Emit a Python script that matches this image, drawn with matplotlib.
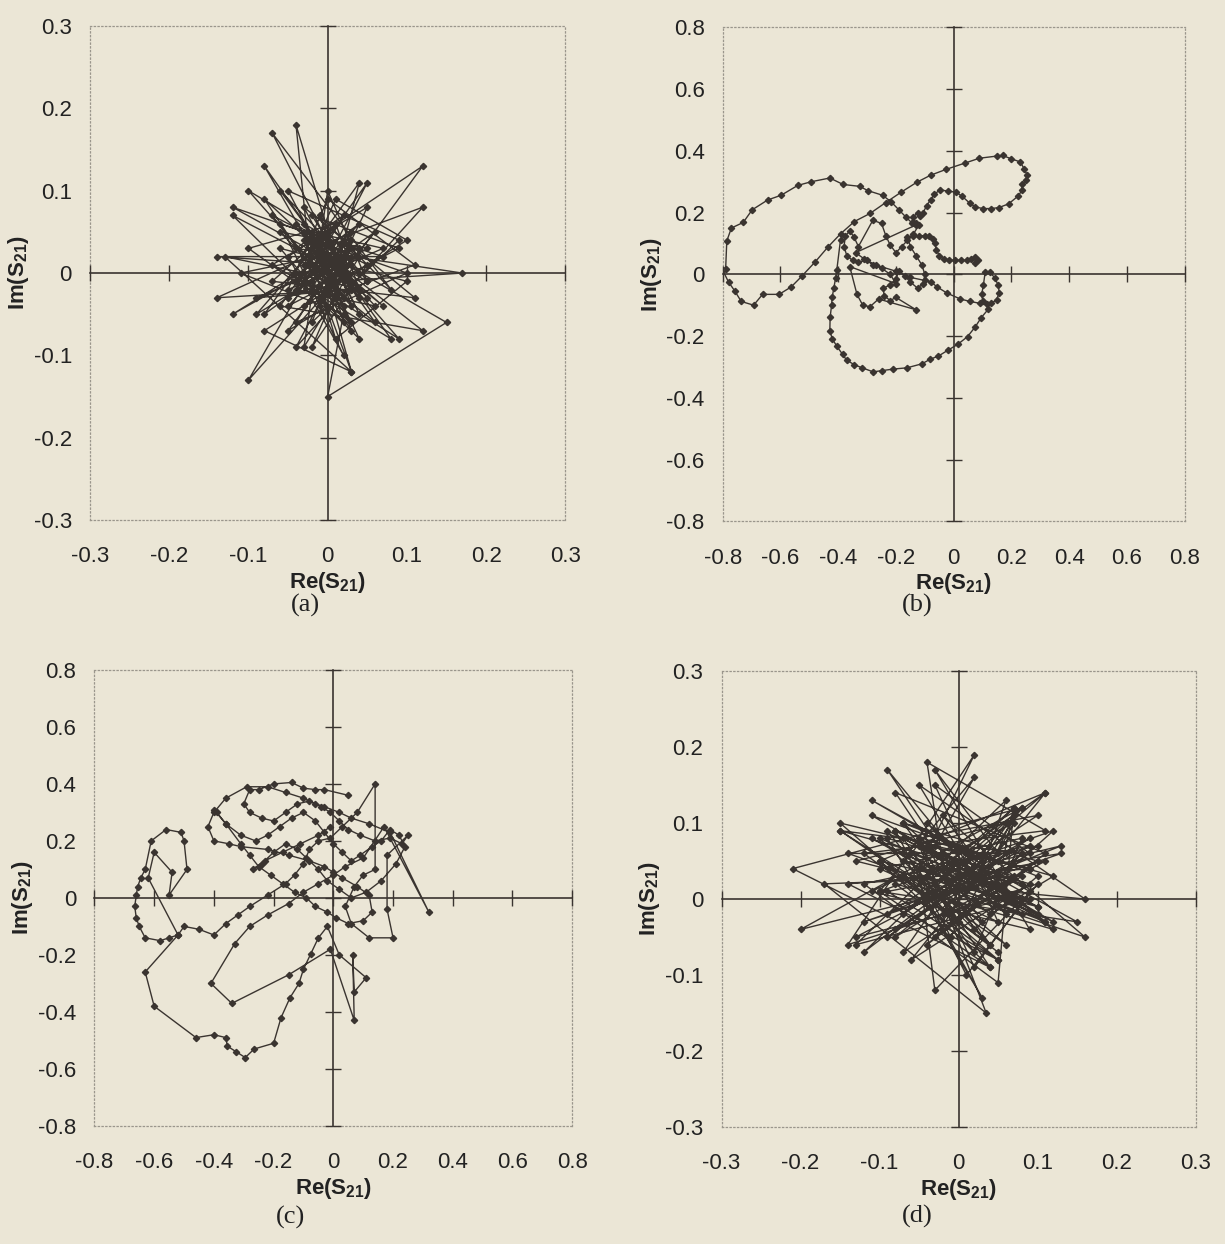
import matplotlib
matplotlib.use("Agg")
import matplotlib.pyplot as plt

plt.rcParams["font.family"] = ["Liberation Sans", "DejaVu Sans"]
plt.rcParams["mathtext.fontset"] = "custom"
plt.rcParams["mathtext.rm"] = "Liberation Sans:bold"
plt.rcParams["mathtext.it"] = "Liberation Sans:bold"

# ---- panel (a): noisy S21, +-0.3 ----
a_re = [0.01, -0.04, -0.02, 0.05, -0.06, 0.03, -0.01, 0.08, -0.07, 0.02, -0.05, 0.04, -0.03, 0.06, -0.08,
        0.01, 0.03, -0.04, 0.10, -0.02, 0.02, -0.10, 0.04, -0.03, 0.00, 0.05, -0.12, 0.03, -0.01, 0.12,
        -0.05, 0.02, -0.06, 0.07, -0.14, 0.01, 0.04, -0.03, 0.11, -0.07, 0.00, 0.03, -0.14, 0.02, -0.02,
        0.09, -0.05, 0.01, 0.17, -0.04, 0.02, -0.10, 0.03, -0.02, 0.05, -0.06, 0.12, 0.00, -0.03, 0.04,
        -0.12, 0.02, -0.01, 0.06, -0.04, 0.01, 0.10, -0.08, 0.03, -0.02, 0.04, -0.11, 0.02, 0.00, 0.15,
        -0.03, 0.01, -0.07, 0.05, -0.02, 0.03, -0.09, 0.01, 0.04, -0.04, 0.09, -0.01, 0.02, -0.13, 0.03,
        -0.02, 0.07, -0.05, 0.00, 0.11, -0.03, 0.02, -0.06, 0.04, -0.01, 0.08, -0.04, 0.01, -0.10, 0.03,
        0.00, 0.05, -0.07, 0.02, -0.02, 0.12, -0.04, 0.01, 0.04, -0.08, 0.02, -0.01, 0.06, -0.03, 0.03,
        -0.12, 0.01, 0.04, -0.02, 0.09, -0.05, 0.00, 0.03, -0.08, 0.02, 0.05, -0.03, 0.01, 0.10, -0.06,
        0.02, -0.01, 0.04, -0.04, 0.03, -0.09, 0.01, 0.07, -0.02, 0.00, 0.05, -0.05, 0.02, -0.03, 0.01]
a_im = [0.02, 0.18, -0.01, 0.03, 0.05, -0.04, 0.07, -0.02, 0.17, 0.00, -0.03, 0.06, 0.01, -0.06, 0.13,
        -0.02, 0.05, -0.06, 0.00, 0.04, -0.03, 0.10, 0.02, -0.09, 0.10, -0.01, 0.08, 0.03, -0.04, 0.13,
        0.02, -0.10, 0.06, 0.02, 0.02, 0.01, -0.05, 0.08, -0.03, -0.01, 0.05, -0.02, -0.03, 0.04, -0.06,
        0.04, 0.10, -0.01, 0.00, 0.03, 0.07, -0.13, 0.01, -0.02, 0.11, -0.04, -0.07, 0.02, 0.06, -0.08,
        0.07, 0.00, 0.03, -0.04, -0.02, 0.09, 0.04, -0.07, -0.12, 0.01, 0.03, 0.00, -0.05, -0.15, -0.06,
        0.04, -0.03, 0.07, 0.01, -0.09, 0.02, -0.05, 0.06, -0.02, 0.00, -0.08, 0.03, -0.01, 0.02, -0.12,
        0.05, 0.03, -0.02, 0.09, 0.01, -0.04, 0.02, 0.10, -0.03, 0.04, -0.08, -0.01, 0.06, 0.03, -0.06,
        -0.02, 0.08, 0.01, -0.04, 0.03, 0.08, -0.09, 0.00, 0.11, -0.05, 0.02, -0.03, 0.05, -0.01, 0.04,
        -0.05, 0.02, -0.02, 0.07, 0.03, -0.04, 0.01, -0.07, 0.09, 0.00, -0.03, 0.05, -0.08, -0.01, 0.03,
        -0.06, 0.04, 0.00, 0.06, -0.02, -0.03, 0.01, -0.04, 0.03, 0.05, -0.01, -0.07, 0.02, 0.00, 0.01]

# ---- panel (b): looping S21, +-0.8 ----
b_re = [0.075, 0.085, 0.075, 0.06, 0.045, 0.025, 0.005, -0.015, -0.035, -0.05, -0.06, -0.065, -0.07,
        -0.085, -0.10, -0.12, -0.14, -0.16, -0.15, -0.13, -0.11, -0.10, -0.105, -0.125, -0.15, -0.17,
        -0.19, -0.20, -0.22, -0.245, -0.24, -0.22, -0.20, -0.13, -0.26, -0.29, -0.315, -0.335, -0.36,
        -0.20, -0.22, -0.25, -0.28, -0.30, -0.33, -0.35, -0.37, -0.38, -0.375, -0.36, -0.345, -0.33,
        -0.28, -0.25, -0.235, -0.22, -0.20, -0.18, -0.16, -0.14, -0.12, -0.13, -0.143,
        -0.166, -0.189, -0.217, -0.246, -0.297, -0.326, -0.383, -0.429, -0.493, -0.54, -0.598, -0.644,
        -0.698, -0.729, -0.77, -0.786, -0.79, -0.80, -0.78, -0.759, -0.736, -0.693, -0.662, -0.605,
        -0.563, -0.527, -0.479, -0.435, -0.392, -0.344, -0.29, -0.236, -0.182, -0.128, -0.08, -0.026,
        0.041, 0.089, 0.149, 0.17, 0.197, 0.231, 0.244, 0.254, 0.251, 0.237, 0.237, 0.224, 0.19, 0.156,
        0.129, 0.102, 0.075, 0.055, 0.028, 0.007, -0.02, -0.047, -0.067, -0.08, -0.094, -0.107, -0.115,
        -0.125, -0.14, -0.14, -0.13, -0.34, -0.31, -0.27, -0.20, -0.15, -0.10, -0.08, -0.057, -0.023,
        0.023, 0.057, 0.091, 0.101, 0.097, 0.103, 0.109, 0.126, 0.143, 0.154, 0.158, 0.149, 0.131,
        0.114, 0.12, 0.095, 0.075, 0.048, 0.014, -0.02, -0.053, -0.081, -0.11, -0.162, -0.209, -0.249,
        -0.279, -0.317, -0.344, -0.371, -0.385, -0.405, -0.421, -0.429, -0.428, -0.423, -0.421, -0.415,
        -0.409, -0.405, -0.392]
b_im = [0.035, 0.045, 0.055, 0.05, 0.045, 0.045, 0.045, 0.045, 0.05, 0.06, 0.08, 0.10, 0.115,
        0.125, 0.125, 0.125, 0.125, 0.12, 0.09, 0.06, 0.03, 0.00, -0.03, -0.045, -0.025, -0.005,
        0.01, -0.015, -0.035, -0.045, -0.07, -0.085, -0.075, -0.115, -0.08, -0.105, -0.10, -0.065, 0.025,
        -0.03, 0.00, 0.02, 0.03, 0.045, 0.04, 0.045, 0.06, 0.09, 0.125, 0.14, 0.12, 0.09,
        0.175, 0.165, 0.125, 0.095, 0.07, 0.09, 0.11, 0.13, 0.16, 0.165, 0.165,
        0.186, 0.208, 0.235, 0.256, 0.271, 0.285, 0.291, 0.312, 0.30, 0.288, 0.256, 0.241,
        0.209, 0.168, 0.15, 0.108, 0.016, 0.013, -0.025, -0.053, -0.088, -0.10, -0.065, -0.065,
        -0.041, -0.007, 0.041, 0.089, 0.131, 0.171, 0.197, 0.232, 0.266, 0.298, 0.321, 0.34,
        0.361, 0.376, 0.383, 0.385, 0.375, 0.364, 0.342, 0.323, 0.304, 0.292, 0.273, 0.254, 0.228, 0.216,
        0.213, 0.213, 0.218, 0.231, 0.254, 0.266, 0.27, 0.273, 0.26, 0.241, 0.222, 0.197, 0.188,
        0.20, 0.185, 0.17, 0.16, 0.07, 0.05, 0.03, 0.01, -0.01, -0.02, -0.024, -0.041, -0.061,
        -0.08, -0.088, -0.094, -0.088, -0.065, -0.035, 0.006, 0.006, -0.012, -0.035, -0.059, -0.082, -0.094,
        -0.096, -0.113, -0.141, -0.17, -0.202, -0.227, -0.246, -0.265, -0.275, -0.29, -0.303, -0.307, -0.312,
        -0.316, -0.303, -0.293, -0.278, -0.259, -0.233, -0.208, -0.183, -0.139, -0.101, -0.075, -0.044,
        -0.012, 0.013, 0.112]

# ---- panel (c): looping S21, +-0.8 ----
c_re = [0.05, -0.03, -0.06, -0.10, -0.14, -0.20, -0.25, -0.28, -0.30, -0.28, -0.24, -0.20, -0.16,
        -0.12, -0.08, -0.04, -0.01, 0.02, 0.05, 0.09, 0.14, 0.19, 0.23, 0.25, 0.18, 0.18, 0.20, 0.12,
        0.06, 0.04, 0.07, 0.10, 0.14, 0.14, 0.08, 0.03, -0.01, -0.05, -0.08, -0.10, -0.13, -0.16, -0.22,
        -0.28, -0.32, -0.36, -0.40, -0.45, -0.50, -0.52, -0.55, -0.58, -0.63, -0.65, -0.66, -0.665, -0.66,
        -0.655, -0.645, -0.63, -0.61, -0.56, -0.51, -0.50, -0.49, -0.55, -0.54, -0.60, -0.62, -0.52,
        -0.63, -0.60, -0.46, -0.40, -0.36, -0.355, -0.325, -0.295, -0.265, -0.20, -0.175, -0.145, -0.115,
        -0.10, -0.075, -0.05, -0.02, 0.02, 0.11, 0.07, 0.065, 0.07, -0.01, -0.15, -0.34, -0.41, -0.33,
        -0.28, -0.22, -0.15, -0.10, -0.05, 0.00, 0.04, 0.10, 0.17, 0.32, 0.19, 0.12, 0.06, 0.02, -0.03,
        -0.06, -0.10, -0.16, -0.22, -0.29, -0.36, -0.40, -0.42, -0.40, -0.35, -0.31, -0.22, -0.15, -0.08,
        -0.03, 0.00, 0.03, 0.08, 0.12, 0.13, 0.10, 0.05, 0.01, -0.02, -0.06, -0.09, -0.13, -0.17, -0.21,
        -0.25, -0.28, -0.31, -0.36, -0.39, -0.40, -0.36, -0.31, -0.26, -0.22, -0.18, -0.14, -0.10, -0.06,
        -0.03, 0.00, 0.03, 0.06, 0.09, 0.13, 0.16, 0.19, 0.22, 0.24, 0.21, 0.16, 0.11, 0.06, 0.02, -0.02,
        -0.05, -0.09, -0.12, -0.16, -0.20, -0.24, -0.27, -0.23, -0.17, -0.11, -0.05, -0.01]
c_im = [0.36, 0.38, 0.38, 0.385, 0.405, 0.40, 0.38, 0.38, 0.33, 0.30, 0.28, 0.27, 0.30,
        0.33, 0.34, 0.32, 0.30, 0.27, 0.24, 0.22, 0.20, 0.21, 0.19, 0.22, 0.15, -0.04, -0.14, -0.14,
        -0.09, -0.03, 0.04, 0.08, 0.10, 0.40, 0.30, 0.25, 0.21, 0.20, 0.17, 0.12, 0.08, 0.05, 0.01,
        -0.03, -0.06, -0.09, -0.13, -0.11, -0.10, -0.13, -0.14, -0.15, -0.14, -0.10, -0.07, -0.03, 0.01,
        0.04, 0.07, 0.10, 0.20, 0.24, 0.23, 0.20, 0.10, 0.01, 0.09, 0.16, 0.07, -0.13,
        -0.26, -0.38, -0.49, -0.48, -0.49, -0.52, -0.54, -0.56, -0.53, -0.51, -0.42, -0.35, -0.30,
        -0.25, -0.195, -0.14, -0.10, -0.20, -0.28, -0.33, -0.20, -0.43, -0.18, -0.27, -0.37, -0.30, -0.16,
        -0.10, -0.06, -0.02, 0.02, 0.05, 0.08, 0.11, 0.14, 0.25, -0.05, 0.23, 0.26, 0.28, 0.30, 0.32,
        0.33, 0.35, 0.37, 0.39, 0.39, 0.35, 0.30, 0.25, 0.20, 0.19, 0.18, 0.17, 0.15, 0.13,
        0.11, 0.09, 0.07, 0.04, 0.01, -0.05, -0.08, -0.09, -0.07, -0.05, -0.03, 0.00, 0.02, 0.05, 0.08,
        0.11, 0.15, 0.19, 0.26, 0.30, 0.31, 0.26, 0.22, 0.20, 0.22, 0.25, 0.28, 0.30, 0.27,
        0.23, 0.19, 0.16, 0.13, 0.15, 0.18, 0.20, 0.24, 0.22, 0.18, 0.12, 0.06, 0.02, 0.00, 0.03, 0.06,
        0.10, 0.14, 0.17, 0.19, 0.16, 0.12, 0.10, 0.13, 0.16, 0.19, 0.22, 0.25]

# ---- panel (d): noisy S21, +-0.3, (Re, Im) pairs ----
d_pts = [
    (0.00, 0.03), (-0.09, 0.17), (0.06, -0.02), (-0.07, 0.10), (0.10, 0.05), (-0.04, -0.06), (0.12, 0.09),
    (-0.10, 0.01), (0.04, -0.09), (-0.21, 0.04), (0.08, 0.12), (-0.03, -0.05), (0.11, 0.06), (-0.08, 0.14),
    (0.03, -0.03), (-0.15, 0.09), (0.09, 0.02), (-0.06, -0.08), (0.11, 0.14), (-0.10, 0.05), (0.05, -0.07),
    (-0.07, 0.03), (0.16, -0.05), (-0.02, 0.11), (0.06, 0.00), (-0.13, -0.05), (0.09, 0.07), (-0.05, 0.04),
    (0.02, 0.19), (-0.14, -0.06), (0.10, 0.02), (0.01, -0.10), (-0.07, 0.06), (0.12, -0.03), (-0.11, 0.11),
    (0.05, 0.05), (0.13, 0.07), (-0.04, 0.00), (0.03, -0.13), (-0.09, 0.08), (0.07, 0.03), (-0.20, -0.04),
    (0.08, 0.12), (-0.03, 0.02), (0.04, -0.06), (-0.12, 0.06), (0.11, 0.09), (-0.04, 0.18), (-0.01, -0.02),
    (0.09, 0.04), (-0.15, 0.10), (0.05, -0.08), (-0.08, 0.02), (0.12, -0.04), (-0.03, 0.07), (0.02, 0.16),
    (-0.10, 0.01), (0.15, -0.03), (0.01, 0.05), (-0.07, -0.07), (0.08, 0.03), (-0.17, 0.02), (0.035, -0.15),
    (-0.05, 0.08), (0.10, 0.11), (-0.09, -0.02), (0.03, 0.04), (0.06, 0.13), (-0.13, -0.06), (0.09, 0.00),
    (-0.06, 0.06), (0.04, -0.02), (0.12, 0.03), (-0.08, 0.09), (-0.01, -0.05), (0.07, 0.10), (-0.11, 0.01),
    (0.09, -0.04), (-0.03, 0.17), (0.05, 0.06), (-0.14, 0.06), (0.08, -0.02), (-0.04, 0.03), (0.11, -0.03),
    (-0.07, 0.08), (0.04, -0.09), (-0.10, 0.05), (0.06, 0.01), (0.16, 0.00), (-0.05, 0.15), (0.02, 0.03),
    (-0.08, -0.04), (0.10, 0.07), (-0.12, 0.02), (0.05, -0.11), (0.07, 0.12), (-0.02, 0.04), (0.10, -0.01),
    (-0.09, 0.09), (0.00, -0.03), (0.08, 0.06), (-0.15, 0.09), (0.06, -0.06), (-0.04, 0.03), (0.11, 0.14),
    (-0.07, -0.02), (0.03, 0.05), (-0.11, 0.13), (0.09, 0.01), (0.02, -0.09), (-0.05, 0.07), (0.10, -0.01),
    (-0.13, 0.05), (0.06, 0.10), (0.00, 0.02), (-0.08, -0.05), (0.09, 0.06), (-0.03, 0.15), (0.05, -0.03),
    (-0.10, 0.04), (0.08, 0.08), (0.02, -0.07), (-0.05, 0.03), (0.13, 0.06), (-0.12, -0.03), (0.03, 0.02),
    (0.07, 0.11), (-0.02, -0.02), (0.11, 0.05), (-0.09, 0.01), (0.05, -0.08), (-0.14, 0.02), (0.09, 0.04),
    (-0.04, 0.07), (0.02, -0.04), (0.10, 0.03), (-0.07, 0.10), (0.04, -0.06), (-0.10, 0.08), (0.08, 0.00),
    (-0.03, -0.12), (-0.05, 0.04), (0.10, -0.02), (-0.08, 0.09), (0.05, 0.02), (0.07, 0.12), (-0.12, -0.07),
    (0.03, 0.05), (-0.03, 0.01), (0.09, 0.08), (-0.09, -0.05), (0.06, 0.06), (0.01, 0.01), (-0.11, 0.08),
    (0.11, -0.03), (-0.04, 0.10), (0.05, 0.00), (-0.07, 0.05), (0.08, 0.02), (-0.02, 0.06), (0.03, 0.03),
]
d_re = [p[0] for p in d_pts]
d_im = [p[1] for p in d_pts]

ticks_03 = [-0.3, -0.2, -0.1, 0, 0.1, 0.2, 0.3]
ticks_08 = [-0.8, -0.6, -0.4, -0.2, 0, 0.2, 0.4, 0.6, 0.8]

# tag, data, limit, ticks, axes rect, caption position
panels = [
    ("(a)", a_re, a_im, 0.3, ticks_03, [0.0735, 0.582, 0.388, 0.397], (0.249, 0.513)),
    ("(b)", b_re, b_im, 0.8, ticks_08, [0.590, 0.581, 0.377, 0.397], (0.749, 0.513)),
    ("(c)", c_re, c_im, 0.8, ticks_08, [0.0771, 0.0949, 0.390, 0.3666], (0.237, 0.021)),
    ("(d)", d_re, d_im, 0.3, ticks_03, [0.589, 0.094, 0.387, 0.3666], (0.749, 0.022)),
]

bg = "#ebe6d6"
ink = "#3a3430"
txt = "#222222"

fig = plt.figure(figsize=(12.25, 12.44), dpi=100, facecolor=bg)


def fmt(v):
    return "0" if v == 0 else f"{v:g}"


for tag, re_vals, im_vals, lim, ticks, rect, cap in panels:
    ax = fig.add_axes(rect, facecolor=bg)
    ax.plot(re_vals, im_vals, color=ink, lw=1.0, marker="D", ms=3.2, mfc=ink, mec=ink)
    ax.set_xlim(-lim, lim)
    ax.set_ylim(-lim, lim)
    ax.set_xticks(ticks)
    ax.set_yticks(ticks)
    ax.set_xticklabels([fmt(t) for t in ticks])
    ax.set_yticklabels([fmt(t) for t in ticks])
    ax.tick_params(length=0, labelsize=16, colors=txt)
    ax.tick_params(axis="x", pad=19)
    ax.tick_params(axis="y", pad=13)
    for s in ax.spines.values():
        s.set_linestyle((0, (1, 2)))
        s.set_color("#9a968c")
        s.set_linewidth(0.9)
    ax.set_xlabel(r"Re(S$_{21}$)", fontsize=16, fontweight="bold", color=txt, labelpad=2)
    ax.set_ylabel(r"Im(S$_{21}$)", fontsize=16, fontweight="bold", color=txt, labelpad=2)

    # cross axes through the origin with tick marks
    ax2 = fig.add_axes(rect, sharex=ax, sharey=ax)
    ax2.patch.set_visible(False)
    ax2.spines["left"].set_position(("data", 0))
    ax2.spines["bottom"].set_position(("data", 0))
    ax2.spines["top"].set_visible(False)
    ax2.spines["right"].set_visible(False)
    for k in ("left", "bottom"):
        ax2.spines[k].set_color(ink)
        ax2.spines[k].set_linewidth(1.2)
    ax2.tick_params(direction="inout", length=12, width=1.0, colors=ink,
                    labelbottom=False, labelleft=False)

    fig.text(cap[0], cap[1], tag, fontsize=19, family="Liberation Serif",
             color=txt, ha="center", va="center")

fig.savefig("out.png", dpi=100, facecolor=bg)
